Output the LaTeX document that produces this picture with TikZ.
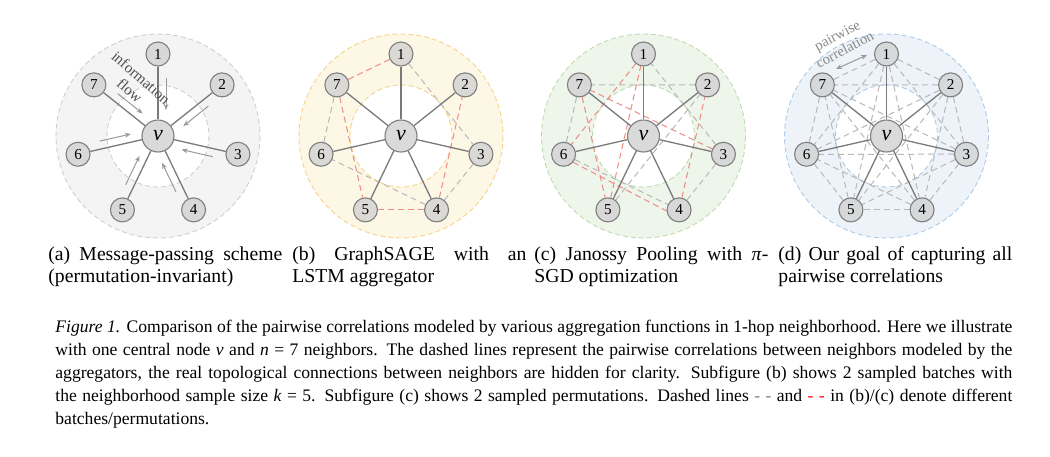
\documentclass[tikz,border=0pt]{standalone}
\usepackage{fontspec}
\setmainfont{Liberation Serif}
\usetikzlibrary{calc,arrows.meta}
\definecolor{nodefill}{HTML}{D4D4D4}
\definecolor{nodeline}{HTML}{7F7F7F}
\definecolor{spokecol}{HTML}{7A7A7A}
\definecolor{gdashcol}{HTML}{B8B8B8}
\definecolor{rdashcol}{HTML}{F08A84}
\definecolor{afill}{HTML}{F4F4F4}\definecolor{aline}{HTML}{CFCFCF}
\definecolor{bfill}{HTML}{FDF7E6}\definecolor{bline}{HTML}{F6D48A}
\definecolor{cfill}{HTML}{EEF5EA}\definecolor{cline}{HTML}{BFDCB0}
\definecolor{dfill}{HTML}{EEF3F9}\definecolor{dline}{HTML}{AECBE8}
\definecolor{flowcol}{HTML}{9A9A9A}
\definecolor{infotext}{HTML}{505050}
\definecolor{corrtext}{HTML}{8A8A8A}
\pgfdeclarelayer{bg}
\pgfsetlayers{bg,main}
\begin{document}
\begin{tikzpicture}[x=0.5pt,y=-0.5pt,
  nb/.style={circle, draw=nodeline, fill=nodefill, fill opacity=0.85, text opacity=1, line width=0.55pt, minimum size=12pt, inner sep=0pt, font=\fontsize{7.6}{8}\selectfont},
  ctr/.style={nb, minimum size=16pt, font=\fontsize{11}{12}\selectfont\itshape},
  spoke/.style={draw=spokecol, line width=0.65pt},
  gdash/.style={draw=gdashcol, line width=0.5pt, dash pattern=on 3pt off 2pt},
  rdash/.style={draw=rdashcol, line width=0.5pt, dash pattern=on 3pt off 2pt},
  ring/.style={line width=0.45pt, dash pattern=on 2.5pt off 1.5pt},
  flow/.style={draw=flowcol, line width=0.5pt, -{Stealth[length=3pt,width=2.4pt]}},
  corr/.style={draw=flowcol, line width=0.5pt, {Stealth[length=3pt,width=2.4pt]}-{Stealth[length=3pt,width=2.4pt]}},
  capt/.style={inner sep=0pt, anchor=base west, font=\fontsize{9.85}{11}\selectfont}
]
\useasboundingbox (0,0) rectangle (1050,456);

\newcommand\mkpanel[2]{%
  \node[ctr] (#1v) at (#2,136) {v};
  \foreach \k in {1,...,7}{%
    \pgfmathsetmacro\ang{(\k-1)*360/7-90}%
    \node[nb] (#1\k) at ($(#2,136)+(\ang:82)$) {\k};
  }%
}
\newcommand\mkrings[4]{% prefix, cx, fill, line
  \filldraw[ring, fill=#3, draw=#4] (#2,136) circle (102);
  \filldraw[ring, fill=white, draw=#4] (#2,136) circle (51);
}
\newcommand\mkspokes[1]{%
  \foreach \k in {1,...,7}{\draw[spoke] (#1v) -- (#1\k);}%
}

% panels
\mkpanel{a}{158}
\mkpanel{b}{401}
\mkpanel{c}{643.5}
\mkpanel{d}{886.5}

\begin{pgfonlayer}{bg}
  \fill[white] (0,0) rectangle (1050,456);
  \mkrings{a}{158}{afill}{aline}
  \mkrings{b}{401}{bfill}{bline}
  \mkrings{c}{643.5}{cfill}{cline}
  \mkrings{d}{886.5}{dfill}{dline}
  % (b) batches
  \draw[gdash] (b1) -- (b3);
  \draw[gdash] (b3) -- (b4);
  \draw[gdash] (b4) -- (b6);
  \draw[gdash] (b6) -- (b7);
  \draw[rdash] (b1) -- (b7);
  \draw[rdash] (b7) -- (b5);
  \draw[rdash] (b5) -- (b4);
  \draw[rdash] (b4) -- (b2);
  % (c) permutations
  \draw[gdash] (c5) -- (c2);
  \draw[gdash] (c2) -- (c7);
  \draw[gdash] (c7) -- (c6);
  \draw[gdash] (c6) -- (c4);
  \draw[gdash] (c4) -- (c3);
  \draw[gdash] (c3) -- (c1);
  \draw[rdash] (c3) -- (c7);
  \draw[rdash] (c7) -- (c5);
  \draw[rdash] (c5) -- (c1);
  \draw[rdash] (c1) -- (c6);
  \draw[rdash] (c6.-40) -- (c4.185);
  \draw[rdash] (c4) -- (c2);
  % (d) all pairs
  \foreach \i in {1,...,6}{%
    \pgfmathtruncatemacro\jst{\i+1}%
    \foreach \j in {\jst,...,7}{\draw[gdash] (d\i) -- (d\j);}%
  }
  \mkspokes{a}\mkspokes{b}\mkspokes{c}\mkspokes{d}
\end{pgfonlayer}

% (a) information flow arrows
\foreach \k in {1,...,7}{%
  \pgfmathsetmacro\ang{(\k-1)*360/7-90}%
  \coordinate (fs\k) at ($(av.center)+(\ang:58)+(\ang+90:8)$);
  \coordinate (fe\k) at ($(av.center)+(\ang:26)+(\ang+90:8)$);
  \draw[flow] (fs\k) -- (fe\k);
}
\node[rotate=-41, align=center, inner sep=0pt, text=infotext, font=\fontsize{7.6}{8.5}\selectfont] (info) at (135.5,84) {information\\flow};

% (d) pairwise correlation
\node[rotate=28, align=center, inner sep=0pt, text=corrtext, font=\fontsize{7.3}{8}\selectfont] (pcorr) at (841,42.5) {pairwise\\correlation};
\coordinate (pc1) at (836,69);
\coordinate (pc2) at (867,55);
\draw[corr] (pc1) -- (pc2);

% sub captions
\node[capt] (capa) at (48,260) {\parbox[t]{117pt}{(a) Message-passing scheme\linebreak (permutation-invariant)}};
\node[capt] (capb) at (292,260) {\parbox[t]{117pt}{(b) GraphSAGE with an\linebreak LSTM aggregator}};
\node[capt] (capc) at (534,260) {\parbox[t]{117pt}{(c) Janossy Pooling with \textit{π}-\linebreak SGD optimization}};
\node[capt] (capd) at (778,260) {\parbox[t]{117pt}{(d) Our goal of capturing all\linebreak pairwise correlations}};

% main caption
\node[capt] (cap) at (55,332) {\parbox[t]{478.5pt}{\fontsize{8.8}{11.5}\selectfont
\textit{Figure 1.} Comparison of the pairwise correlations modeled by various aggregation functions in 1-hop neighborhood. Here we illustrate\linebreak
with one central node \textit{v} and \textit{n} = 7 neighbors. The dashed lines represent the pairwise correlations between neighbors modeled by the\linebreak
aggregators, the real topological connections between neighbors are hidden for clarity. Subfigure (b) shows 2 sampled batches with\linebreak
the neighborhood sample size \textit{k} = 5. Subfigure (c) shows 2 sampled permutations. Dashed lines {\color{gray}- -} and {\color{red}- -} in (b)/(c) denote different\linebreak
batches/permutations.}};
\end{tikzpicture}
\end{document}
